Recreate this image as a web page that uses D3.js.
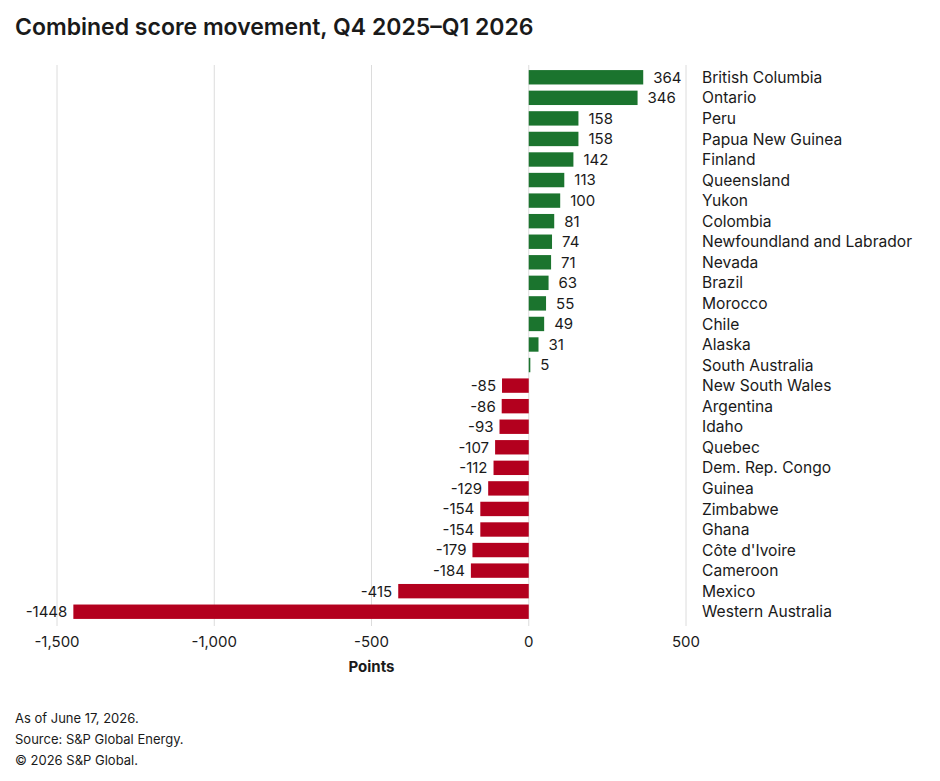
<!DOCTYPE html>
<html><head><meta charset="utf-8">
<script src="https://cdn.jsdelivr.net/npm/d3@7"></script>
<style>
body{margin:0;background:#fff;}
text{font-family:Inter,"Noto Sans",sans-serif;fill:#1a1a1a;}
</style></head><body>
<svg id="c" width="940" height="781"></svg>
<script>
const categories = ["British Columbia","Ontario","Peru","Papua New Guinea","Finland","Queensland","Yukon","Colombia","Newfoundland and Labrador","Nevada","Brazil","Morocco","Chile","Alaska","South Australia","New South Wales","Argentina","Idaho","Quebec","Dem. Rep. Congo","Guinea","Zimbabwe","Ghana","Côte d'Ivoire","Cameroon","Mexico","Western Australia"];
const values = [364,346,158,158,142,113,100,81,74,71,63,55,49,31,5,-85,-86,-93,-107,-112,-129,-154,-154,-179,-184,-415,-1448];
const ticks = [-1500,-1000,-500,0,500];
const tickLabels = ["-1,500","-1,000","-500","0","500"];

const svg = d3.select("#c");
const x = d3.scaleLinear().domain([-1500,500]).range([57,686]);
const y = d3.scaleBand().domain(categories).range([67,622]).paddingInner(0.3).paddingOuter(0.15);

svg.append("text").attr("x",15).attr("y",35).attr("font-size",23).attr("font-weight",600).text("Combined score movement, Q4 2025\u2013Q1 2026");

const g = svg.append("g");
g.selectAll("line.grid").data(ticks).join("line")
 .attr("x1",d=>x(d)).attr("x2",d=>x(d)).attr("y1",65).attr("y2",626)
 .attr("stroke","#dcdcdc").attr("stroke-width",1);

g.selectAll("rect.bar").data(values).join("rect")
 .attr("x",d=>x(Math.min(0,d))).attr("width",d=>Math.abs(x(d)-x(0)))
 .attr("y",(d,i)=>y(categories[i])).attr("height",y.bandwidth())
 .attr("fill",d=>d>=0?"#1b742e":"#b3001e");

g.selectAll("text.val").data(values).join("text")
 .attr("x",d=>d>=0?x(d)+10:x(d)-6).attr("y",(d,i)=>y(categories[i])+y.bandwidth()/2)
 .attr("dy","0.36em").attr("text-anchor",d=>d>=0?"start":"end").attr("font-size",15)
 .text(d=>d);

g.selectAll("text.cat").data(categories).join("text")
 .attr("x",702).attr("y",d=>y(d)+y.bandwidth()/2).attr("dy","0.36em").attr("font-size",15.6)
 .text(d=>d);

g.selectAll("text.tick").data(ticks).join("text")
 .attr("x",d=>x(d)).attr("y",647).attr("text-anchor","middle").attr("font-size",15)
 .text((d,i)=>tickLabels[i]);

svg.append("text").attr("x",(x(-1500)+x(500))/2).attr("y",672).attr("text-anchor","middle")
 .attr("font-size",15).attr("font-weight",700).text("Points");

const foot = ["As of June 17, 2026.","Source: S&P Global Energy.","\u00A9 2026 S&P Global."];
svg.selectAll("text.foot").data(foot).join("text").attr("x",15).attr("y",(d,i)=>723+i*21)
 .attr("font-size",13).text(d=>d);
</script></body></html>
